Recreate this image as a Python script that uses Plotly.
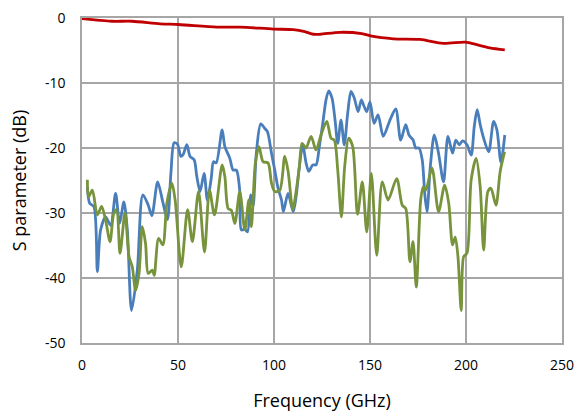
import plotly.graph_objects as go

# Frequency (GHz) / S-parameter (dB) readings
blue_x = [2.8, 4, 6.2, 8, 9.7, 12.3, 14.9, 17.5, 19.6, 21.8, 23.6, 25.8, 28.8, 31.7, 34.5,
          36.4, 39.4, 42, 44.5, 46.3, 48, 49.7, 51.5, 52.7, 54.6, 56.3, 58.4, 59.8, 61.5,
          63.6, 65.3, 67.3, 68.5, 69.9, 73, 74.4, 77, 78.7, 80.4, 82.2, 83, 84.8, 86.2,
          87.9, 89.1, 90.8, 93.1, 95.2, 96.6, 98.7, 100.4, 102.1, 103.9, 104.9, 107.3, 110,
          111.5, 113.2, 115, 116.7, 118.1, 120.2, 121.9, 123.6, 125.4, 127.1, 128.5, 130.2,
          131.8, 133.2, 134.9, 136.6, 138.4, 140.1, 141.8, 143.8, 145.5, 146.8, 148.3, 150,
          152.1, 154.2, 156.9, 160.4, 163.4, 166, 168.6, 170.3, 172.5, 173.8, 175.5, 177.2,
          178.5, 179.7, 181.4, 183.5, 185.7, 188.3, 190.6, 193, 194.7, 196.5, 198.2, 200.5,
          202.7, 204.3, 205.8, 207.4, 209.2, 211.8, 214.4, 216.1, 218.2, 220.2]
blue_y = [-26, -28.5, -29, -39, -32.6, -30.6, -31.9, -27, -31.6, -28.3, -32.6, -45, -38.8, -27.2, -28.8,
          -30.4, -25.2, -28.2, -31, -23.9, -19.2, -19.4, -21.3, -21, -19.5, -21.3, -21.8, -24.4, -26.7,
          -23.9, -28, -24.7, -22.1, -22.3, -17.2, -19.8, -21.6, -23.4, -23.4, -26.7, -32.6, -32.5, -32.9,
          -27.2, -29, -20.8, -16.3, -17, -17.5, -20.8, -23.4, -26.2, -28, -29.8, -27, -29.8,
          -27.5, -22.9, -19.5, -22.3, -23.6, -22.6, -22.6, -19.8, -16.2, -12.6, -11.2, -12.3,
          -15.7, -19.3, -15.7, -19.5, -14.6, -11.3, -12.3, -14.4, -12.6, -13.5, -14.4, -12.9,
          -16.2, -14.9, -18.2, -15.7, -14, -18.8, -16.4, -18, -18.8, -20, -20, -21.8,
          -27, -29.8, -22.9, -18, -20.8, -25.2, -18.2, -20.8, -18.8, -19.5, -18.9, -19.5,
          -21.1, -16.7, -14.1, -16.4, -18.5, -20.6, -15.9, -17.2, -22.2, -18]

green_x = [2.8, 3.4, 5.4, 8, 10.2, 12.3, 14.6, 16.6, 18, 19.8, 22.4, 24.5, 26.2, 27.9, 29.7,
           31.4, 33.1, 34.5, 36.6, 37.6, 39.9, 42.1, 44.2, 46.8, 48.5, 51.7, 55, 57.5, 60.7,
           63.8, 66.4, 69, 73, 74.4, 76.1, 77.8, 79.6, 82.2, 84.8, 86.9, 88.2, 90.3, 92.2,
           94.3, 96.9, 98.7, 100.4, 103, 105.6, 107.3, 109.8, 111.5, 113.2, 114.6, 116.7,
           119.3, 121.9, 124.5, 127.5, 129.7, 131.4, 133.2, 135.1, 136.8, 138.9, 141, 143.5,
           146, 148.3, 150.7, 153.5, 156.4, 159.4, 163.9, 166.8, 168.6, 170.8, 172.4, 174.1,
           176.4, 177.7, 179, 182.3, 185.7, 188.9, 191, 193, 194.4, 195.8, 197.5, 198.8, 200.5,
           202.7, 205.3, 207.4, 209.2, 211.4, 213, 215.6, 217.8, 220.1]
green_y = [-24.9, -27.5, -26.5, -30.3, -29, -31.1, -34.4, -30, -29.5, -36.2, -30, -36.7, -38.3, -41.9, -39.3,
           -32.1, -34.7, -39.3, -38.8, -39.6, -33.9, -34.9, -28.5, -25.4, -28, -38.3, -29.5, -34.4, -26.7,
           -36, -26.5, -30.3, -22.6, -24.4, -29.3, -29.6, -31.6, -26.7, -32.6, -28, -32.1, -22.3, -19.8,
           -22.1, -22.3, -25.4, -26.7, -26.5, -21.3, -23.5, -29.5, -26.7, -22.9, -19.3, -20,
           -18.2, -20.3, -18, -15.9, -18.5, -18.8, -23.4, -30.6, -22.9, -18.5, -19.8, -30.2,
           -25.2, -32.9, -23.9, -36.5, -25.2, -28, -24.7, -28.8, -29.3, -37.5, -34.4, -41.4,
           -28, -26, -26.5, -23.1, -29.8, -25.7, -28.5, -34.9, -33.7, -36.7, -45, -36.7, -36.2,
           -24.9, -21.6, -26, -35.7, -26.7, -26.2, -28.8, -23.6, -20.6]

red_x = [0, 15.6, 26, 40.7, 50.3, 70.2, 82.4, 99.7, 110, 116, 120.5, 124, 134.4, 145.7,
         150.9, 162.1, 176, 188.1, 199.4, 202.9, 212.4, 220.2]
red_y = [-0.1, -0.5, -0.5, -0.9, -1, -1.4, -1.4, -1.7, -1.8, -2.1, -2.5, -2.5, -2.2, -2.4,
         -2.8, -3.2, -3.3, -3.9, -3.7, -3.9, -4.6, -4.9]

x_ticks = [0, 50, 100, 150, 200, 250]
x_labels = ["0", "50", "100", "150", "200", "250"]
y_ticks = [0, -10, -20, -30, -40, -50]
y_labels = ["0", "-10", "-20", "-30", "-40", "-50"]

FONT = "Open Sans"
fig = go.Figure()
fig.add_trace(go.Scatter(x=blue_x, y=blue_y, mode="lines",
                         line=dict(color="#4A7EBB", width=2.8, shape="spline", smoothing=0.8)))
fig.add_trace(go.Scatter(x=green_x, y=green_y, mode="lines",
                         line=dict(color="#77933C", width=2.8, shape="spline", smoothing=0.8)))
fig.add_trace(go.Scatter(x=red_x, y=red_y, mode="lines",
                         line=dict(color="#C00000", width=2.8, shape="spline", smoothing=0.8)))

fig.update_layout(
    width=576, height=414,
    margin=dict(l=82, r=14, t=18, b=71),
    plot_bgcolor="white", paper_bgcolor="white",
    showlegend=False,
    font=dict(family=FONT, size=14, color="black"),
)
fig.update_xaxes(range=[0, 250], tickvals=x_ticks, ticktext=x_labels, automargin=False,
                 showgrid=True, gridcolor="#A6A6A6", gridwidth=1.5,
                 showline=True, linecolor="#A6A6A6", linewidth=1.5, mirror=True, zeroline=False,
                 ticks="", ticklabelstandoff=8, tickfont=dict(size=14, color="black"),
                 title=dict(text="Frequency (GHz)", font=dict(size=18, family=FONT), standoff=22))
fig.update_yaxes(range=[-50, 0], tickvals=y_ticks, ticktext=y_labels, automargin=False,
                 showgrid=True, gridcolor="#A6A6A6", gridwidth=1.5,
                 showline=True, linecolor="#A6A6A6", linewidth=1.5, mirror=True, zeroline=False,
                 ticks="", ticklabelstandoff=12, tickfont=dict(size=14, color="black"),
                 title=dict(text="S parameter (dB)", font=dict(size=18, family=FONT), standoff=14))

fig.write_html("out.html", config={"displayModeBar": False},
               post_script="document.body.style.margin='0';document.body.style.overflow='hidden';")
